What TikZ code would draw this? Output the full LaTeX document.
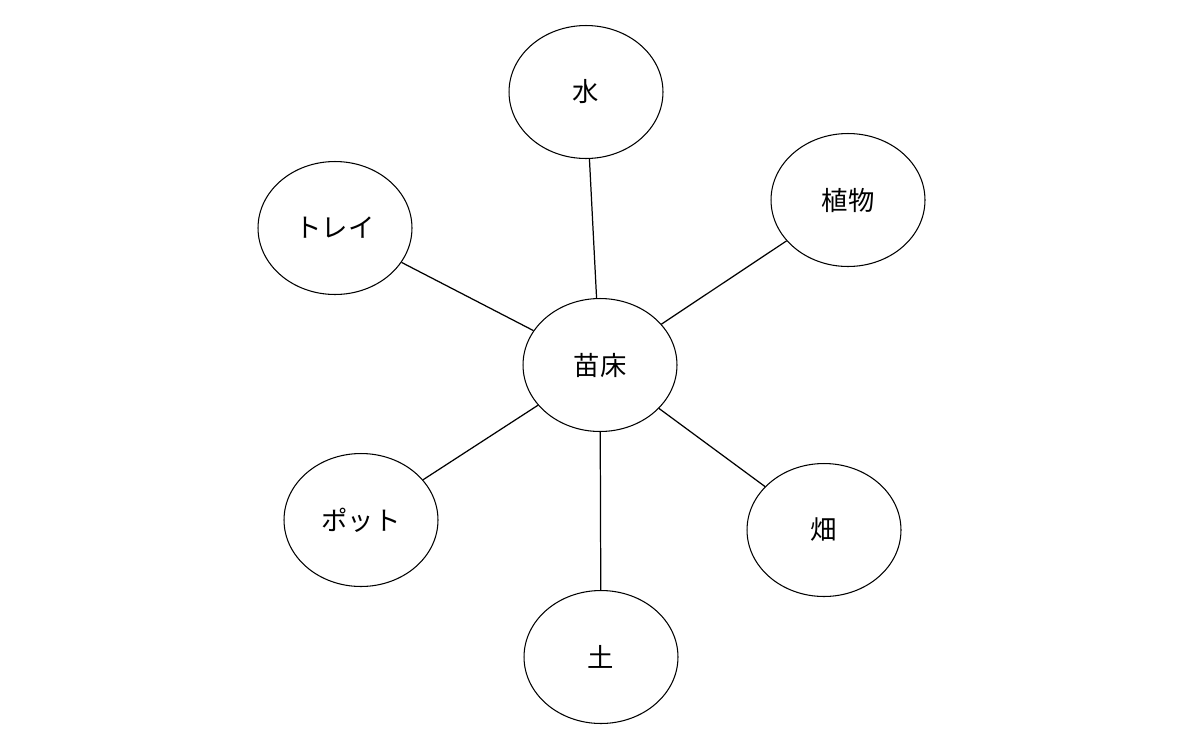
\documentclass[tikz,border=0pt]{standalone}
\usepackage{fontspec}
\newfontfamily\cjk{Noto Sans CJK JP}
\usetikzlibrary{shapes.geometric}
\begin{document}
\begin{tikzpicture}[x=0.02cm,y=-0.02cm,
  bub/.style={ellipse,draw,line width=0.6pt,minimum width=3.08cm,minimum height=2.66cm,inner sep=0pt,font=\cjk\fontsize{15}{18}\selectfont},
  link/.style={line width=0.7pt}]
\useasboundingbox[fill=white] (0,0) rectangle (1200,741);
\node[bub] (c) at (600,365) {苗床};
\node[bub] (w) at (586,92) {水};
\node[bub] (p) at (848,200) {植物};
\node[bub] (t) at (335,228) {トレイ};
\node[bub] (po) at (361,520) {ポット};
\node[bub] (h) at (824,530) {畑};
\node[bub] (s) at (601,657) {土};
\foreach \n in {w,p,t,po,h,s} \draw[link] (c) -- (\n);
\end{tikzpicture}
\end{document}
